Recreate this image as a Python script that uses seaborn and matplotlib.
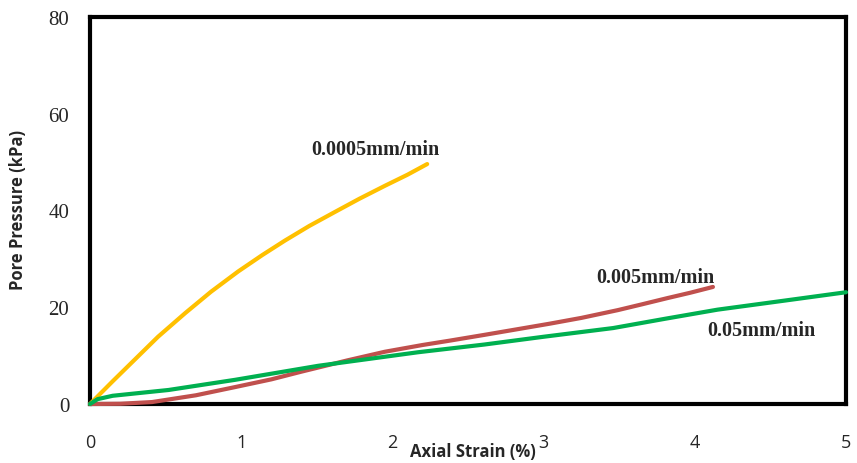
import matplotlib
matplotlib.use("Agg")
import matplotlib.pyplot as plt
import seaborn as sns
import pandas as pd

# Data
strain_0005 = [0, 0.15, 0.30, 0.45, 0.63, 0.80, 0.98, 1.14, 1.29, 1.45, 1.62, 1.78, 1.95, 2.10, 2.23]
pp_0005 = [0, 4.7, 9.3, 13.9, 18.8, 23.2, 27.4, 30.8, 33.8, 36.8, 39.7, 42.4, 45.1, 47.4, 49.6]

strain_005 = [0, 0.2, 0.41, 0.7, 0.96, 1.2, 1.40, 1.7, 1.95, 2.2, 2.38, 2.61, 3.04, 3.25, 3.49, 3.65, 3.82, 3.97, 4.12]
pp_005 = [0, 0.05, 0.4, 1.8, 3.5, 5.1, 6.7, 9.0, 10.8, 12.2, 13.1, 14.3, 16.6, 17.8, 19.4, 20.6, 21.9, 23.0, 24.2]

strain_05 = [0, 0.05, 0.15, 0.52, 0.96, 1.51, 2.17, 2.61, 3.0, 3.46, 3.8, 4.15, 4.6, 5.0]
pp_05 = [0, 1.0, 1.7, 2.9, 5.0, 7.9, 10.7, 12.3, 13.9, 15.7, 17.6, 19.5, 21.4, 23.1]

labels = ["0.0005mm/min", "0.005mm/min", "0.05mm/min"]
colors = ["#FFC000", "#C0504D", "#00B050"]

x_ticks = [0, 1, 2, 3, 4, 5]
y_ticks = [0, 20, 40, 60, 80]

df = pd.concat([
    pd.DataFrame({"strain": strain_0005, "pp": pp_0005, "rate": labels[0]}),
    pd.DataFrame({"strain": strain_005, "pp": pp_005, "rate": labels[1]}),
    pd.DataFrame({"strain": strain_05, "pp": pp_05, "rate": labels[2]}),
], ignore_index=True)

sns.set_style("white")
fig = plt.figure(figsize=(8.57, 4.64), dpi=100)
ax = fig.add_axes([90 / 857, 1 - 405 / 464, (846 - 90) / 857, (405 - 18) / 464])

sns.lineplot(data=df, x="strain", y="pp", hue="rate", palette=dict(zip(labels, colors)),
             linewidth=3.0, legend=False, ax=ax, sort=False, estimator=None,
             solid_capstyle="round", solid_joinstyle="round", clip_on=False, zorder=3)

ax.set_xlim(0, 5)
ax.set_ylim(0, 80)
ax.set_xticks(x_ticks)
ax.set_yticks(y_ticks)
for s in ax.spines.values():
    s.set_linewidth(3)
    s.set_color("black")
    s.set_visible(True)
    s.set_zorder(2)

ax.tick_params(axis="both", direction="in", length=5, width=2.5, color="black")
ax.tick_params(axis="x", pad=21)
ax.tick_params(axis="y", pad=15)
for t in ax.get_yticklabels():
    t.set_fontfamily("Liberation Serif")
    t.set_fontsize(15)
for t in ax.get_xticklabels():
    t.set_fontfamily("Open Sans")
    t.set_fontsize(13)

ax.set_xlabel("Axial Strain (%)", fontfamily="Open Sans", fontweight="bold", fontsize=12)
ax.xaxis.set_label_coords((473 - 90) / 756, -(452 - 405) / 387)
ax.xaxis.label.set_va("center")
ax.set_ylabel("Pore Pressure (kPa)", fontfamily="Open Sans", fontweight="bold", fontsize=12)
ax.yaxis.set_label_coords(-(90 - 18) / 756, (405 - 210) / 387)
ax.yaxis.label.set_va("center")

txt = dict(fontfamily="Liberation Serif", fontweight="bold", fontsize=14.5, ha="center", va="center")
ax.text(1.885, 52.7, labels[0], **txt)
ax.text(3.74, 26.2, labels[1], **txt)
ax.text(4.44, 15.3, labels[2], **txt)

fig.savefig("out.png", dpi=100)
